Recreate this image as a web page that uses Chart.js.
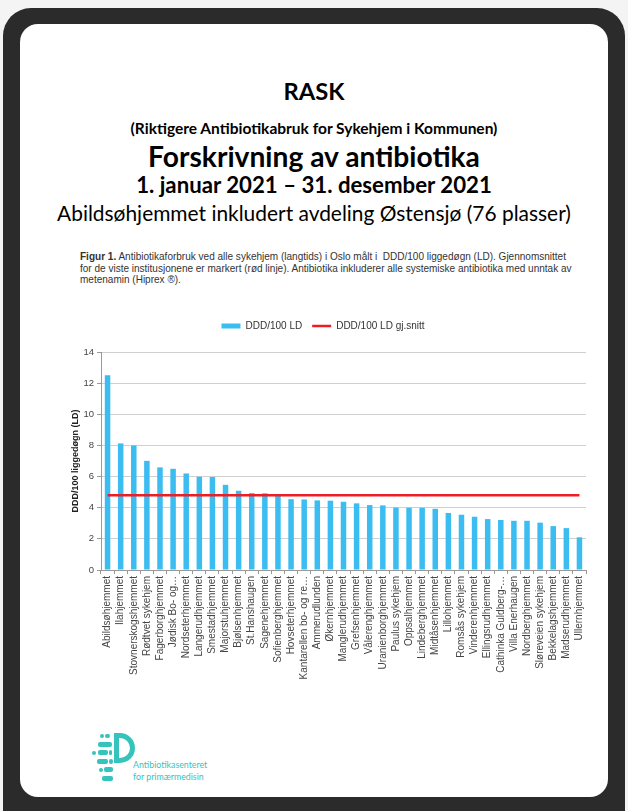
<!DOCTYPE html>
<html><head><meta charset="utf-8">
<script src="https://cdn.jsdelivr.net/npm/chart.js@4.4.1/dist/chart.umd.min.js"></script>
<style>
html,body{margin:0;padding:0}
body{width:628px;height:811px;position:relative;overflow:hidden;background:#f4f4f4}
#frame{position:absolute;left:3px;top:8px;width:622px;height:840px;background:#2b2b2b;border-radius:28px}
#page{position:absolute;left:20px;top:24px;width:588px;height:773px;background:#fff;border-radius:18px}
.line{position:absolute;left:0;width:628px;text-align:center;white-space:nowrap}
.line span{display:inline-block;font-family:Lato,"Open Sans",sans-serif;color:#000;line-height:1}
#caption{position:absolute;left:80px;top:251px;font-family:"Liberation Sans",Arial,sans-serif;font-size:8.6px;line-height:11.5px;color:#333;white-space:nowrap}
#chartBox{position:absolute;left:40px;top:300px;width:560px;height:390px}
.lg{position:absolute;background:#35c4bd;border-radius:2px}
.dot{position:absolute;background:#35c4bd;border-radius:50%}
#bowl{position:absolute;left:114px;top:733px;width:11px;height:20px;border:5px solid #35c4bd;border-radius:0 16px 16px 0}
#logotext{position:absolute;left:133px;top:759px;font-family:Lato,sans-serif;font-size:8.8px;line-height:12px;color:#35c4bd;white-space:nowrap}
</style></head><body>
<div id="frame"></div>
<div id="page"></div>

<div class="line" data-cy="93" data-w="61"><span style="font-weight:700;font-size:20px">RASK</span></div>
<div class="line" data-cy="128" data-w="367"><span style="font-weight:700;font-size:14px">(Riktigere Antibiotikabruk for Sykehjem i Kommunen)</span></div>
<div class="line" data-cy="157" data-w="332"><span style="font-weight:700;font-size:24px">Forskrivning av antibiotika</span></div>
<div class="line" data-cy="186" data-w="356"><span style="font-weight:700;font-size:21px">1. januar 2021 – 31. desember 2021</span></div>
<div class="line" data-cy="214" data-w="514"><span style="font-weight:400;font-size:20px">Abildsøhjemmet inkludert avdeling Østensjø (76 plasser)</span></div>

<div id="caption"><span id="cap1"><b>Figur 1.</b> Antibiotikaforbruk ved alle sykehjem (langtids) i Oslo målt i&nbsp; DDD/100 liggedøgn (LD). Gjennomsnittet</span><br>for de viste institusjonene er markert (rød linje). Antibiotika inkluderer alle systemiske antibiotika med unntak av<br>metenamin (Hiprex ®).</div>

<div id="chartBox"><canvas id="c" width="560" height="390"></canvas></div>

<!-- logo -->
<div class="lg" style="left:100px;top:734px;width:4px;height:4px"></div>
<div class="lg" style="left:105px;top:734px;width:5px;height:4px"></div>
<div class="lg" style="left:98px;top:742px;width:14px;height:5px"></div>
<div class="dot" style="left:92px;top:751px;width:4px;height:4px"></div>
<div class="lg" style="left:98px;top:750px;width:10px;height:5px"></div>
<div class="lg" style="left:109px;top:750px;width:3px;height:5px"></div>
<div class="lg" style="left:97px;top:759px;width:11px;height:5px"></div>
<div class="lg" style="left:109px;top:759px;width:4px;height:5px"></div>
<div class="dot" style="left:99px;top:768px;width:4px;height:4px"></div>
<div class="lg" style="left:104px;top:767px;width:9px;height:5px"></div>
<div class="lg" style="left:102px;top:776px;width:11px;height:5px"></div>
<div id="bowl"></div>
<div id="logotext">Antibiotikasenteret<br>for primærmedisin</div>

<script>
// ---- data ----
const categories = [
  "Abildsøhjemmet","Ilahjemmet","Stovnerskogshjemmet","Rødtvet sykehjem","Fagerborghjemmet",
  "Jødisk Bo- og…","Nordseterhjemmet","Langerudhjemmet","Smestadhjemmet","Majorstuhjemmet",
  "Bjølsenhjemmet","St.Hanshaugen","Sagenehjemmet","Sofienberghjemmet","Hovseterhjemmet",
  "Kantarellen bo- og re…","Ammerudlunden","Økernhjemmet","Manglerudhjemmet","Grefsenhjemmet",
  "Vålerenghjemmet","Uranienborghjemmet","Paulus sykehjem","Oppsalhjemmet","Lindeberghjemmet",
  "Midtåsenhjemmet","Lillohjemmet","Romsås sykehjem","Vinderenhjemmet","Ellingsrudhjemmet",
  "Cathinka Guldberg-…","Villa Enerhaugen","Nordberghjemmet","Sløreveien sykehjem","Bekkelagshjemmet",
  "Madserudhjemmet","Ullernhjemmet"
];
const dddValues = [
  12.5, 8.13, 8.0, 7.01, 6.59, 6.5, 6.2, 5.99, 5.97, 5.47,
  5.09, 4.94, 4.93, 4.77, 4.55, 4.53, 4.47, 4.45, 4.38, 4.28,
  4.17, 4.15, 4.01, 4.0, 4.0, 3.93, 3.66, 3.55, 3.42, 3.27,
  3.21, 3.16, 3.16, 3.04, 2.82, 2.69, 2.1
];
const averageValue = 4.8;
const averageValues = categories.map(() => averageValue);
const yTickLabels = [0, 2, 4, 6, 8, 10, 12, 14];
const seriesNames = ["DDD/100 LD", "DDD/100 LD gj.snitt"];
const yTitle = "DDD/100 liggedøgn (LD)";

// ---- fit title lines ----
document.querySelectorAll('.line').forEach(d => {
  const s = d.firstElementChild;
  let fs = parseFloat(s.style.fontSize);
  const w = s.getBoundingClientRect().width;
  fs = fs * parseFloat(d.dataset.w) / w;
  s.style.fontSize = fs + 'px';
  d.style.top = (parseFloat(d.dataset.cy) - fs * 0.53) + 'px';
});
(function(){
  const cap = document.getElementById('caption');
  const c1 = document.getElementById('cap1');
  const w = c1.getBoundingClientRect().width;
  cap.style.fontSize = (8.6 * 486 / w) + 'px';
})();

// ---- chart ----
const FONT = "'Liberation Sans', Arial, sans-serif";
const legendGap = {
  id: 'legendGap',
  beforeInit(chart) {
    const orig = chart.legend.fit;
    chart.legend.fit = function () { orig.bind(chart.legend)(); this.height += 11; };
  }
};

new Chart(document.getElementById('c'), {
  type: 'bar',
  data: {
    labels: categories,
    datasets: [
      {
        type: 'bar', label: seriesNames[0], data: dddValues,
        backgroundColor: '#3bbdf2', borderWidth: 0,
        barPercentage: 0.42, categoryPercentage: 1.0,
        pointStyle: 'rect', order: 1
      },
      {
        type: 'line', label: seriesNames[1], data: averageValues,
        borderColor: '#ee1c25', backgroundColor: '#ee1c25', borderWidth: 2.5,
        pointRadius: 0, pointStyle: 'line', tension: 0, order: 0
      }
    ]
  },
  options: {
    responsive: false,
    animation: false,
    devicePixelRatio: 1,
    layout: { padding: { left: 20, right: 14, top: 11, bottom: 0 } },
    plugins: {
      tooltip: { enabled: false },
      legend: {
        position: 'top',
        labels: {
          usePointStyle: true, pointStyleWidth: 19, boxHeight: 5,
          padding: 10, color: '#333',
          font: { family: FONT, size: 10 },
          sort: (a, b) => a.datasetIndex - b.datasetIndex
        }
      }
    },
    scales: {
      x: {
        afterFit: s => { s.height = 120; },
        grid: { display: true, drawOnChartArea: false, drawTicks: true, tickLength: 4, color: '#999', offset: true },
        border: { display: true, color: '#999' },
        ticks: {
          autoSkip: false, maxRotation: 90, minRotation: 90, padding: 2,
          color: '#444', font: { family: FONT, size: 10 }
        }
      },
      y: {
        min: yTickLabels[0], max: yTickLabels[yTickLabels.length - 1],
        afterFit: s => { s.width = 41; },
        afterBuildTicks: s => { s.ticks = yTickLabels.map(v => ({ value: v })); },
        grid: { color: '#d0d0d0', tickLength: 4, drawTicks: true, tickColor: '#999' },
        border: { display: true, color: '#999' },
        ticks: { padding: 3, color: '#444', font: { family: FONT, size: 9.5 } },
        title: {
          display: true, text: yTitle, color: '#222',
          font: { family: FONT, size: 9, weight: 'bold' },
          padding: { top: 10, bottom: 0 }
        }
      }
    }
  },
  plugins: [legendGap]
});
</script>
</body></html>
